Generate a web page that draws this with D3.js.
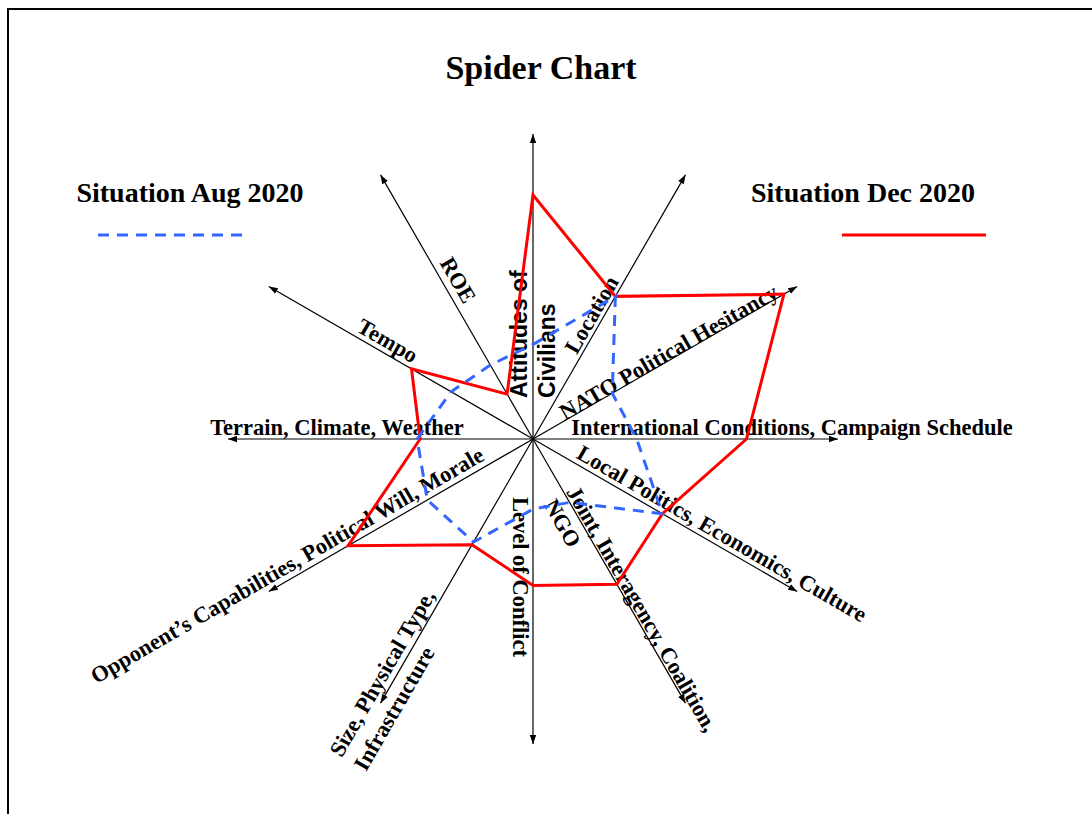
<!DOCTYPE html>
<meta charset="utf-8">
<script src="https://d3js.org/d3.v7.min.js"></script>
<style>
  body { margin: 0; background: #fff; }
</style>
<div id="my_dataviz"></div>
<script>

// axis names, clockwise from the top ("\n" = second line of the label)
var categories = [
  "Attitudes of\nCivilians",
  "Location",
  "NATO Political Hesitancy",
  "International Conditions, Campaign Schedule",
  "Local Politics, Economics, Culture",
  "Joint, Interagency, Coalition,\nNGO",
  "Level of Conflict",
  "Size, Physical Type,\nInfrastructure",
  "Opponent\u2019s Capabilities, Political Will, Morale",
  "Terrain, Climate, Weather",
  "Tempo",
  "ROE"
];
var seriesNames = ["Situation Aug 2020", "Situation Dec 2020"];
var aug2020 = [3.1, 5.4, 3.0, 3.4, 4.9, 2.4, 2.3, 3.9, 4.0, 3.8, 3.1, 2.8];
var dec2020 = [8.0, 5.4, 9.5, 7.0, 4.9, 5.5, 4.8, 4.0, 7.0, 3.7, 4.6, 1.7];
var maxValue = 10;

// label placement: distance along the axis, anchor, baseline offset of each line
var labelLayout = [
  {along: 41,  anchor: "start",  off: [6, -22], sans: true},
  {along: 137, anchor: "middle", off: [4]},
  {along: 161, anchor: "middle", off: [0]},
  {along: 259, anchor: "middle", off: [4]},
  {along: 211, anchor: "middle", off: [5]},
  {along: 62,  anchor: "start",  off: [2, -24]},
  {along: 138, anchor: "middle", off: [-20]},
  {along: 372, anchor: "start",  off: [6, -22]},
  {along: 276, anchor: "middle", off: [6]},
  {along: 196, anchor: "middle", off: [4]},
  {along: 175, anchor: "middle", off: [5]},
  {along: 175, anchor: "middle", off: [7]}
];

var width = 1092, height = 814;
var cx = 533, cy = 439, radius = 305;
var serif = "'Liberation Serif', 'Times New Roman', Times, serif";
var sans = "'Liberation Sans', Arial, Helvetica, sans-serif";

var svg = d3.select("#my_dataviz")
  .append("svg")
    .attr("width", width)
    .attr("height", height);

// frame
svg.append("rect")
  .attr("x", 8).attr("y", 9)
  .attr("width", 1200).attr("height", 1000)
  .attr("fill", "none")
  .attr("stroke", "#000")
  .attr("stroke-width", 2);

svg.append("defs").append("marker")
  .attr("id", "arrow")
  .attr("viewBox", "0 -5 10 10")
  .attr("refX", 10).attr("refY", 0)
  .attr("markerUnits", "userSpaceOnUse")
  .attr("markerWidth", 9).attr("markerHeight", 9)
  .attr("orient", "auto")
  .append("path")
    .attr("d", "M0,-3.6L10,0L0,3.6Z")
    .attr("fill", "#000");

// title
svg.append("text")
  .attr("x", 541).attr("y", 79)
  .attr("text-anchor", "middle")
  .attr("font-family", serif)
  .attr("font-weight", "bold")
  .attr("font-size", 34)
  .text("Spider Chart");

// scales
var angle = d3.scaleLinear().domain([0, categories.length]).range([0, 2 * Math.PI]);
var r = d3.scaleLinear().domain([0, maxValue]).range([0, radius]);

var g = svg.append("g").attr("transform", "translate(" + cx + "," + cy + ")");

// axes
g.selectAll(".axis")
  .data(categories)
  .enter()
  .append("line")
    .attr("class", "axis")
    .attr("x1", 0).attr("y1", 0)
    .attr("x2", function(d, i) { return r(maxValue) * Math.sin(angle(i)); })
    .attr("y2", function(d, i) { return -r(maxValue) * Math.cos(angle(i)); })
    .attr("stroke", "#000")
    .attr("stroke-width", 1.2)
    .attr("marker-end", "url(#arrow)");

// axis labels
categories.forEach(function(name, i) {
  var a = angle(i);
  var lay = labelLayout[i];
  var inward = Math.sin(a) < -0.01;
  var rot = a * 180 / Math.PI - (inward ? 270 : 90);
  var px = lay.along * Math.sin(a), py = -lay.along * Math.cos(a);
  var t = g.append("text")
    .attr("transform", "translate(" + px + "," + py + ") rotate(" + rot + ")")
    .attr("text-anchor", lay.anchor)
    .attr("font-family", lay.sans ? sans : serif)
    .attr("font-weight", "bold")
    .attr("font-size", lay.sans ? 23 : 22.5);
  name.split("\n").forEach(function(line, k) {
    t.append("tspan").attr("x", 0).attr("y", -lay.off[k]).text(line);
  });
});

var radar = d3.lineRadial()
  .angle(function(d, i) { return angle(i); })
  .radius(function(d) { return r(d); })
  .curve(d3.curveLinearClosed);

g.append("path")
  .attr("d", radar(dec2020))
  .attr("fill", "none")
  .attr("stroke", "#ff0000")
  .attr("stroke-width", 3)
  .attr("stroke-linejoin", "miter");

g.append("path")
  .attr("d", radar(aug2020))
  .attr("fill", "none")
  .attr("stroke", "#3366ff")
  .attr("stroke-width", 3)
  .attr("stroke-dasharray", "11,8");

// legend
var legend = [
  {name: seriesNames[0], x: 190, x1: 98, x2: 242, color: "#3366ff", dash: "11,8"},
  {name: seriesNames[1], x: 863, x1: 842, x2: 986, color: "#ff0000", dash: null}
];
legend.forEach(function(l) {
  svg.append("text")
    .attr("x", l.x).attr("y", 202)
    .attr("text-anchor", "middle")
    .attr("font-family", serif)
    .attr("font-weight", "bold")
    .attr("font-size", 28)
    .text(l.name);
  svg.append("line")
    .attr("x1", l.x1).attr("x2", l.x2)
    .attr("y1", 235).attr("y2", 235)
    .attr("stroke", l.color)
    .attr("stroke-width", 3)
    .attr("stroke-dasharray", l.dash);
});

</script>
